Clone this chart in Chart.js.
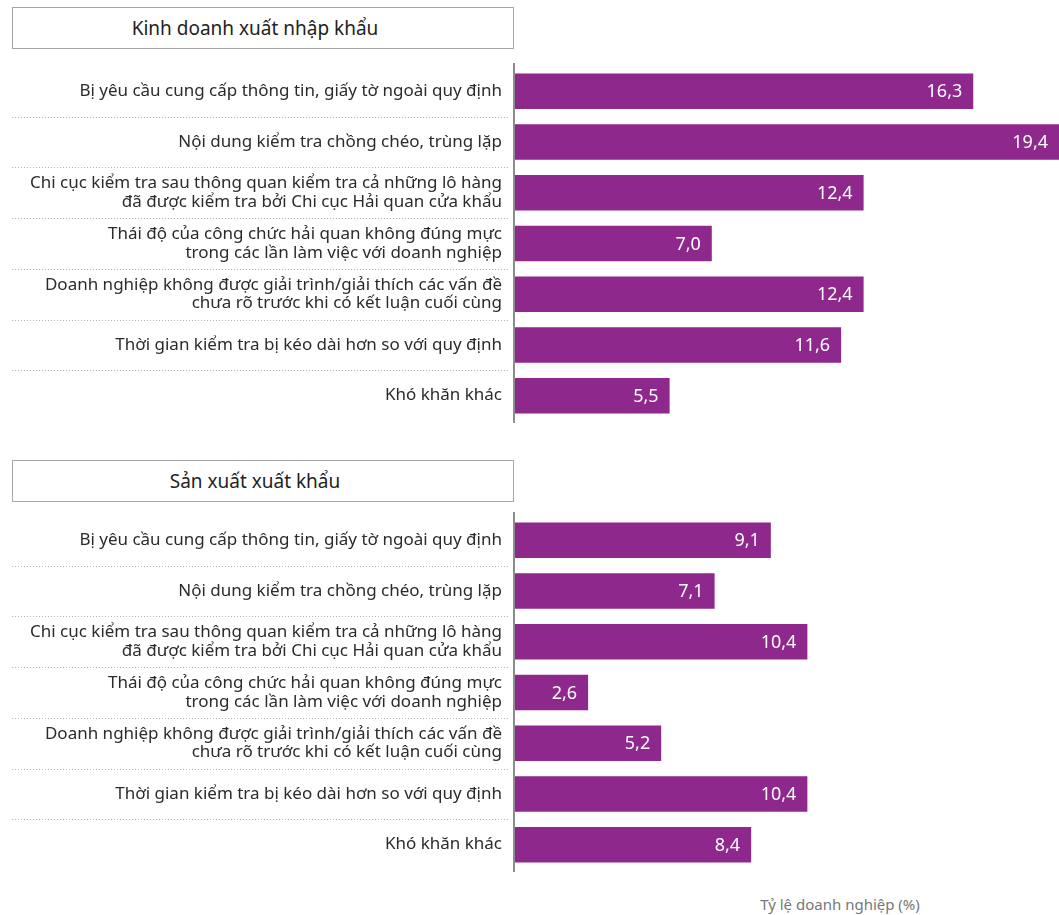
<!DOCTYPE html>
<html lang="vi">
<head>
<meta charset="utf-8">
<script src="https://cdn.jsdelivr.net/npm/chart.js@4.4.1/dist/chart.umd.min.js"></script>
<style>
  html, body { margin: 0; padding: 0; background: #fff; }
  body { width: 1059px; height: 915px; position: relative; overflow: hidden; font-family: "Noto Sans", sans-serif; }
  .head { position: absolute; left: 12px; width: 484px; padding-right: 16px; height: 40px; border: 1px solid #a6a6a6;
          font-size: 19px; color: #222; text-align: center; line-height: 40px; }
  .wrap { position: absolute; left: 0; width: 1059px; height: 375px; }
  #caption { position: absolute; left: 740px; top: 894px; width: 200px; text-align: center; font-size: 15px; color: #777; }
</style>
</head>
<body>
<div class="head" style="top:7px">Kinh doanh xuất nhập khẩu</div>
<div class="wrap" style="top:55px"><canvas id="c1"></canvas></div>
<div class="head" style="top:460px">Sản xuất xuất khẩu</div>
<div class="wrap" style="top:504px"><canvas id="c2"></canvas></div>
<div id="caption">Tỷ lệ doanh nghiệp (%)</div>
<script>
  const categories = [
    ["Bị yêu cầu cung cấp thông tin, giấy tờ ngoài quy định"],
    ["Nội dung kiểm tra chồng chéo, trùng lặp"],
    ["Chi cục kiểm tra sau thông quan kiểm tra cả những lô hàng", "đã được kiểm tra bởi Chi cục Hải quan cửa khẩu"],
    ["Thái độ của công chức hải quan không đúng mực", "trong các lần làm việc với doanh nghiệp"],
    ["Doanh nghiệp không được giải trình/giải thích các vấn đề", "chưa rõ trước khi có kết luận cuối cùng"],
    ["Thời gian kiểm tra bị kéo dài hơn so với quy định"],
    ["Khó khăn khác"]
  ];
  const tradeValues = [16.3, 19.4, 12.4, 7.0, 12.4, 11.6, 5.5];
  const productionValues = [9.1, 7.1, 10.4, 2.6, 5.2, 10.4, 8.4];

  const BAR = "#8e288c";
  const FONT = "'Noto Sans', sans-serif";

  // dotted separators between category rows (label side only) + the gray axis line
  const separators = {
    id: "separators",
    afterDraw(chart) {
      const y = chart.scales.y, ctx = chart.ctx, area = chart.chartArea;
      ctx.save();
      ctx.strokeStyle = "#b5b5b5";
      ctx.lineWidth = 1;
      ctx.setLineDash([1, 2]);
      for (let i = 1; i < chart.data.labels.length; i++) {
        const py = Math.round((y.getPixelForValue(i - 1) + y.getPixelForValue(i)) / 2) + 0.5;
        ctx.beginPath();
        ctx.moveTo(12, py);
        ctx.lineTo(area.left - 5, py);
        ctx.stroke();
      }
      ctx.setLineDash([]);
      ctx.strokeStyle = "#8c8c8c";
      ctx.lineWidth = 2;
      ctx.beginPath();
      ctx.moveTo(area.left - 1, area.top - 3);
      ctx.lineTo(area.left - 1, area.bottom + 2);
      ctx.stroke();
      ctx.restore();
    }
  };

  // white value inside the end of each bar
  const valueLabels = {
    id: "valueLabels",
    afterDatasetsDraw(chart) {
      const ctx = chart.ctx;
      const meta = chart.getDatasetMeta(0);
      ctx.save();
      ctx.fillStyle = "#fff";
      ctx.font = "18px " + FONT;
      ctx.textAlign = "right";
      ctx.textBaseline = "middle";
      meta.data.forEach((bar, i) => {
        const v = chart.data.datasets[0].data[i];
        ctx.fillText(v.toFixed(1).replace(".", ","), Math.min(bar.x, chart.chartArea.right) - 11, bar.y + 1);
      });
      ctx.restore();
    }
  };

  function makeChart(id, values) {
    return new Chart(document.getElementById(id), {
      type: "bar",
      data: {
        labels: categories,
        datasets: [{ data: values, backgroundColor: BAR, barPercentage: 0.7, categoryPercentage: 1 }]
      },
      options: {
        indexAxis: "y",
        responsive: true,
        maintainAspectRatio: false,
        animation: false,
        layout: { padding: { top: 11, bottom: 9, left: 0, right: 0 } },
        plugins: { legend: { display: false }, tooltip: { enabled: false } },
        scales: {
          x: { display: false, min: 0, max: 19.35 },
          y: {
            grid: { display: false, drawTicks: false },
            border: { display: false },
            ticks: {
              color: "#2b2b2b",
              padding: 13,
              font: { family: FONT, size: 17, lineHeight: 1.1 }
            },
            afterFit(scale) {
              scale.width = 515;
              scale.paddingTop = 0;
              scale.paddingBottom = 0;
            }
          }
        }
      },
      plugins: [separators, valueLabels]
    });
  }

  makeChart("c1", tradeValues);
  makeChart("c2", productionValues);
</script>
</body>
</html>
